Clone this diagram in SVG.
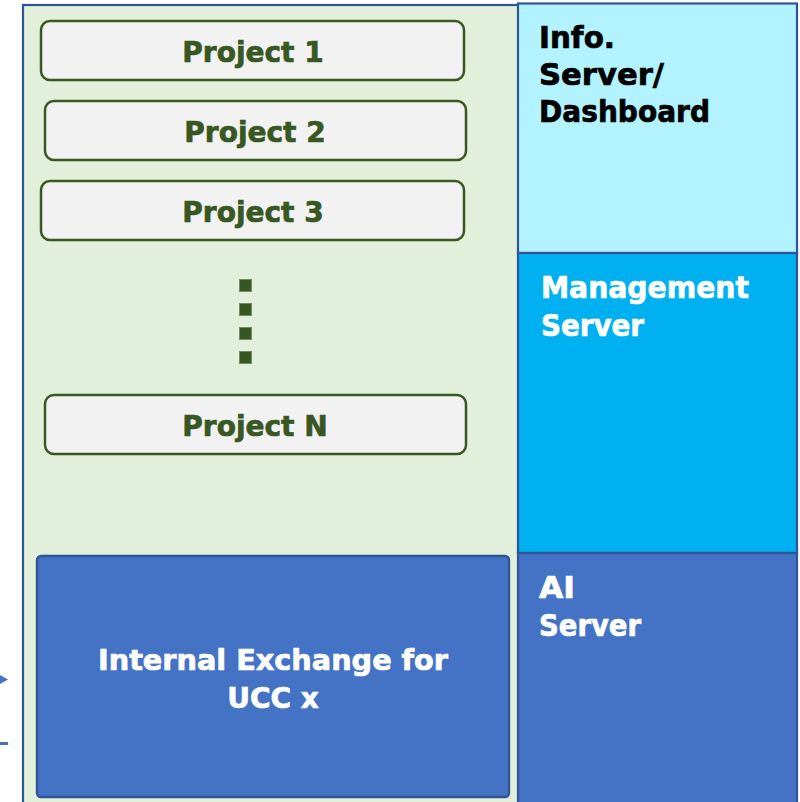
<svg xmlns="http://www.w3.org/2000/svg" width="800" height="802" viewBox="0 0 800 802">
<style>
.proj rect{fill:#f2f2f2;stroke:#385723;stroke-width:2.5}
.pt{font-family:"DejaVu Sans",Verdana,sans-serif;font-weight:bold;font-size:28px;fill:#385723;stroke:#385723;stroke-width:0.7;text-anchor:middle}
.lt{font-family:"DejaVu Sans",Verdana,sans-serif;font-weight:bold;font-size:30px;stroke-width:0.7}
.wt{fill:#ffffff;stroke:#ffffff}
.bt{fill:#000000;stroke:#000000}
.dot{fill:#375623;stroke:#6f8f5a;stroke-width:1}
</style>
<rect width="800" height="802" fill="#ffffff"/>
<g id="container">
<rect x="23" y="5" width="496" height="805" fill="#e2efda" stroke="#2f5597" stroke-width="2.2"/>
</g>
<g id="info-server">
<rect x="518" y="3.5" width="279" height="249.5" fill="#b3f3ff" stroke="#2f5597" stroke-width="2.2"/>
<text class="lt bt" x="539" y="48" textLength="76" lengthAdjust="spacingAndGlyphs">Info.</text>
<text class="lt bt" x="539" y="85" textLength="125" lengthAdjust="spacingAndGlyphs">Server/</text>
<text class="lt bt" x="539" y="122" textLength="171" lengthAdjust="spacingAndGlyphs">Dashboard</text>
</g>
<g id="management-server">
<rect x="518" y="253" width="279" height="300" fill="#00b0f0" stroke="#2f5597" stroke-width="2.2"/>
<text class="lt wt" x="541" y="298" textLength="208" lengthAdjust="spacingAndGlyphs">Management</text>
<text class="lt wt" x="541" y="336" textLength="103" lengthAdjust="spacingAndGlyphs">Server</text>
</g>
<g id="ai-server">
<rect x="518" y="553" width="279" height="260" fill="#4472c4" stroke="#2f5597" stroke-width="2.2"/>
<text class="lt wt" x="539" y="598" textLength="36" lengthAdjust="spacingAndGlyphs">AI</text>
<text class="lt wt" x="539" y="636" textLength="102" lengthAdjust="spacingAndGlyphs">Server</text>
</g>
<g id="project-1" class="proj">
<rect x="41" y="21" width="423" height="59" rx="9"/>
<text class="pt" x="253" y="62">Project 1</text>
</g>
<g id="project-2" class="proj">
<rect x="45" y="101" width="421" height="59" rx="9"/>
<text class="pt" x="255" y="142">Project 2</text>
</g>
<g id="project-3" class="proj">
<rect x="41" y="181" width="423" height="59" rx="9"/>
<text class="pt" x="253" y="222">Project 3</text>
</g>
<g id="ellipsis">
<rect class="dot" x="239.5" y="279.5" width="12" height="12"/>
<rect class="dot" x="239.5" y="303.5" width="12" height="12"/>
<rect class="dot" x="239.5" y="327.5" width="12" height="12"/>
<rect class="dot" x="239.5" y="351.5" width="12" height="12"/>
</g>
<g id="project-n" class="proj">
<rect x="45" y="395" width="421" height="59" rx="9"/>
<text class="pt" x="255" y="436">Project N</text>
</g>
<g id="internal-exchange">
<rect x="37" y="556" width="472" height="241" rx="4" fill="#4472c4" stroke="#2f5597" stroke-width="2.4"/>
<text class="pt wt" x="273" y="670" textLength="350" lengthAdjust="spacingAndGlyphs">Internal Exchange for</text>
<text class="pt wt" x="273" y="708">UCC x</text>
</g>
<g id="connectors">
<path d="M0 675 L8 679.5 L0 684 Z" fill="#4472c4"/>
<line x1="0" y1="743.5" x2="8" y2="743.5" stroke="#4472c4" stroke-width="3"/>
</g>
</svg>
